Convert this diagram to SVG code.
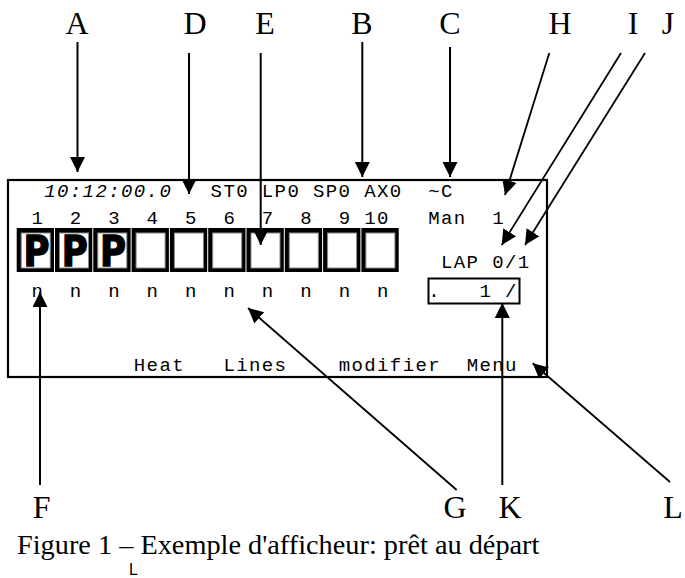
<svg xmlns="http://www.w3.org/2000/svg" width="685" height="578" viewBox="0 0 685 578">
<defs>
<style>
.m{font-family:"Liberation Mono","Courier New",monospace;font-size:19px;letter-spacing:1.4px;fill:#000}
.it{font-style:italic}
.lbl{font-family:"Liberation Serif","Times New Roman",serif;font-size:32px;fill:#000;text-anchor:middle}
.cap{font-family:"Liberation Serif","Times New Roman",serif;font-size:28.3px;fill:#000}
.cellb{fill:#000}
.celli{fill:#fff;stroke:#8a8a8a;stroke-width:1}
.pg{font-family:"DejaVu Sans",sans-serif;font-weight:bold;font-size:42px;fill:#000;stroke:#000;stroke-width:1.5}
.ln{stroke:#000;stroke-width:2;fill:none}
.dg{stroke:#000;stroke-width:1.8;fill:none}
</style>
<marker id="ah" markerUnits="userSpaceOnUse" markerWidth="16" markerHeight="16" refX="15" refY="7.5" orient="auto">
<path d="M0,0 L15,7.5 L0,15 Z" fill="#000"/>
</marker>
</defs>
<rect width="685" height="578" fill="#fff"/>

<g id="display">
<rect x="8" y="180" width="539" height="197" fill="none" stroke="#000" stroke-width="2.2"/>
<text class="m it" x="44.2" y="197" xml:space="preserve">10:12:00.0</text>
<text class="m" x="210.6" y="197" xml:space="preserve">ST0 LP0 SP0 AX0  ~C</text>
<text class="m" x="31.4" y="224" xml:space="preserve">1  2  3  4  5  6  7  8  9 10   Man  1</text>
<text class="m" x="441" y="268" xml:space="preserve">LAP 0/1</text>
<text class="m" x="31.4" y="297" xml:space="preserve">n  n  n  n  n  n  n  n  n  n</text>
<rect x="428.5" y="278.5" width="91" height="25" fill="none" stroke="#000" stroke-width="2"/>
<text class="m" x="428.2" y="297" xml:space="preserve">.   1 /</text>
<text class="m" x="133.8" y="371" xml:space="preserve">Heat   Lines    modifier  Menu</text>
</g>

<g id="cells">
<g id="cell1"><rect class="cellb" x="16.7" y="228" width="37.3" height="44"/><rect class="celli" x="21.2" y="233" width="29" height="35"/><text class="pg" x="23.5" y="266" textLength="26" lengthAdjust="spacingAndGlyphs">P</text></g>
<g id="cell2"><rect class="cellb" x="55" y="228" width="37.3" height="44"/><rect class="celli" x="59.5" y="233" width="29" height="35"/><text class="pg" x="61.8" y="266" textLength="26" lengthAdjust="spacingAndGlyphs">P</text></g>
<g id="cell3"><rect class="cellb" x="93.3" y="228" width="37.3" height="44"/><rect class="celli" x="97.8" y="233" width="29" height="35"/><text class="pg" x="100.1" y="266" textLength="26" lengthAdjust="spacingAndGlyphs">P</text></g>
<g id="cell4"><rect class="cellb" x="131.6" y="228" width="37.3" height="44"/><rect class="celli" x="136.1" y="233" width="29" height="35"/></g>
<g id="cell5"><rect class="cellb" x="169.9" y="228" width="37.3" height="44"/><rect class="celli" x="174.4" y="233" width="29" height="35"/></g>
<g id="cell6"><rect class="cellb" x="208.2" y="228" width="37.3" height="44"/><rect class="celli" x="212.7" y="233" width="29" height="35"/></g>
<g id="cell7"><rect class="cellb" x="246.5" y="228" width="37.3" height="44"/><rect class="celli" x="251" y="233" width="29" height="35"/></g>
<g id="cell8"><rect class="cellb" x="284.8" y="228" width="37.3" height="44"/><rect class="celli" x="289.3" y="233" width="29" height="35"/></g>
<g id="cell9"><rect class="cellb" x="323.1" y="228" width="37.3" height="44"/><rect class="celli" x="327.6" y="233" width="29" height="35"/></g>
<g id="cell10"><rect class="cellb" x="361.4" y="228" width="37.3" height="44"/><rect class="celli" x="365.9" y="233" width="29" height="35"/></g>
</g>

<g id="connectors">
<line class="ln" x1="77.5" y1="42" x2="77.5" y2="172" marker-end="url(#ah)"/>
<line class="ln" x1="189" y1="53" x2="189" y2="194" marker-end="url(#ah)"/>
<line class="ln" x1="260.7" y1="53" x2="260.7" y2="245" marker-end="url(#ah)"/>
<line class="ln" x1="362.3" y1="42" x2="362.3" y2="177" marker-end="url(#ah)"/>
<line class="ln" x1="450" y1="47" x2="450" y2="177" marker-end="url(#ah)"/>
<line class="dg" x1="549.3" y1="53" x2="505" y2="195" marker-end="url(#ah)"/>
<line class="dg" x1="621" y1="53" x2="501.7" y2="245" marker-end="url(#ah)"/>
<line class="dg" x1="645" y1="53" x2="525" y2="245" marker-end="url(#ah)"/>
<line class="ln" x1="40" y1="485" x2="40" y2="292" marker-end="url(#ah)"/>
<line class="dg" x1="456.7" y1="490" x2="248" y2="308" marker-end="url(#ah)"/>
<line class="ln" x1="502.3" y1="485" x2="502.3" y2="303" marker-end="url(#ah)"/>
<line class="dg" x1="670" y1="482" x2="532.7" y2="363.3" marker-end="url(#ah)"/>
</g>

<g id="labels">
<text class="lbl" x="77" y="34">A</text>
<text class="lbl" x="195" y="34">D</text>
<text class="lbl" x="265" y="34">E</text>
<text class="lbl" x="362" y="34">B</text>
<text class="lbl" x="450" y="34">C</text>
<text class="lbl" x="560" y="34">H</text>
<text class="lbl" x="633" y="34">I</text>
<text class="lbl" x="668" y="34">J</text>
<text class="lbl" x="41.7" y="518">F</text>
<text class="lbl" x="455" y="518">G</text>
<text class="lbl" x="510" y="518">K</text>
<text class="lbl" x="673" y="518">L</text>
</g>

<g id="caption">
<text class="cap" x="17" y="554">Figure 1 – Exemple d'afficheur: prêt au départ</text>
<text x="129" y="575" style="font-family:'Liberation Sans',Arial,sans-serif;font-size:16px;fill:#000">L</text>
</g>
</svg>
